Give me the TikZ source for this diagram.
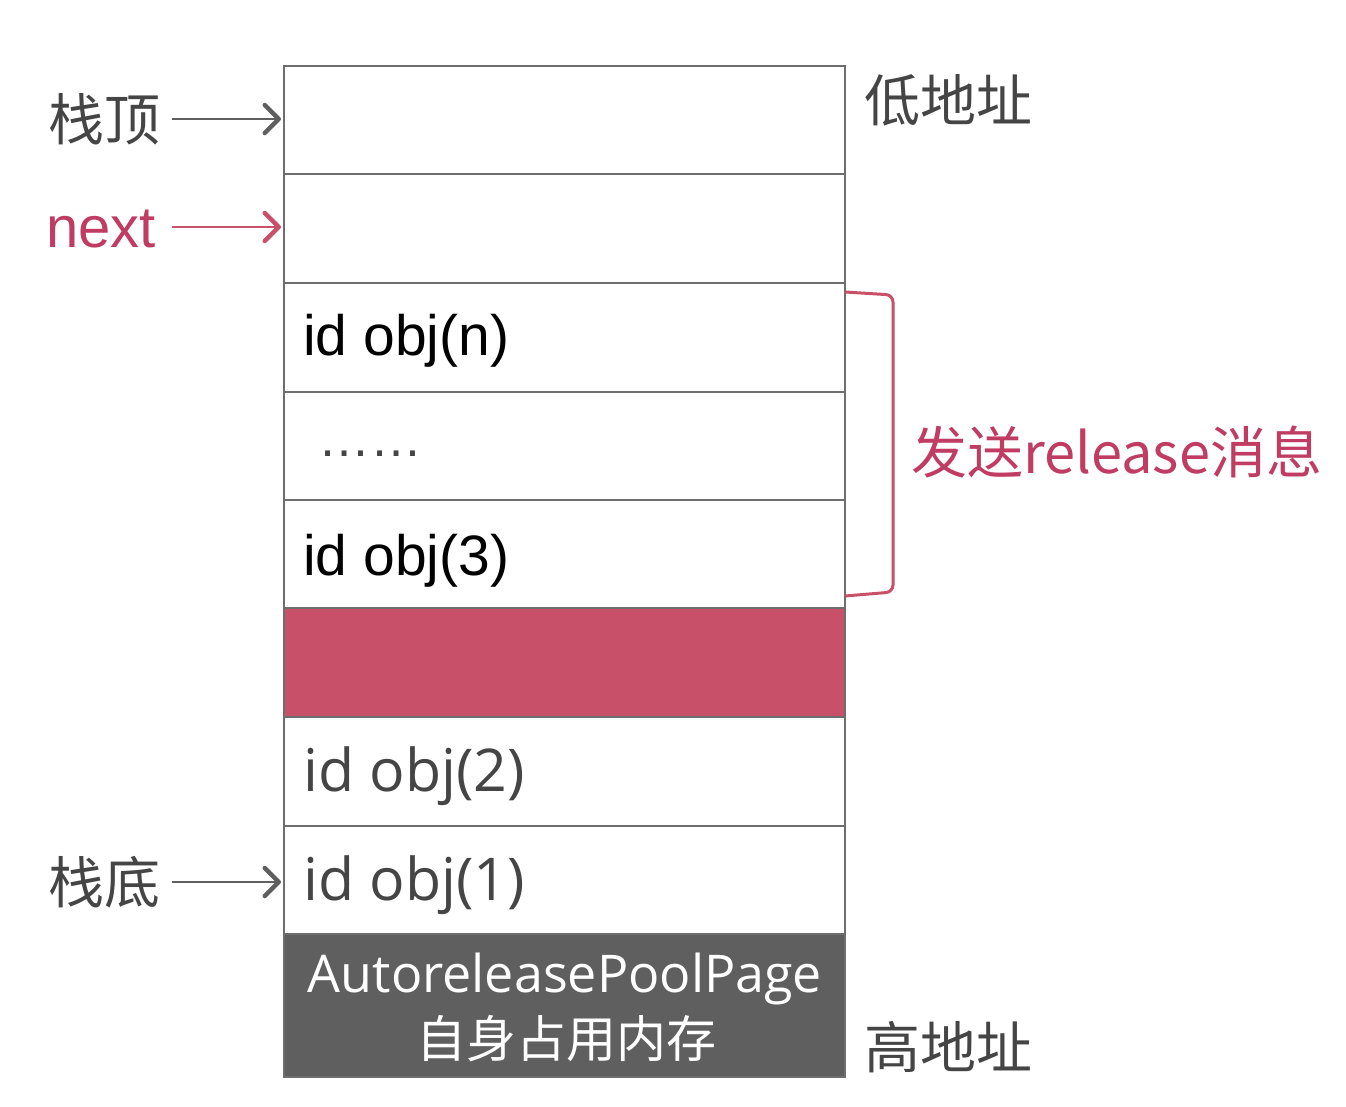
\documentclass[tikz,border=0pt]{standalone}
\usepackage{fontspec}
\setmainfont{Liberation Sans}
\newfontfamily\cjk{Noto Sans CJK SC}
\newfontfamily\seg{Open Sans}
\usetikzlibrary{arrows.meta}
\definecolor{gridc}{HTML}{6E6E6E}
\definecolor{rosec}{HTML}{C85068}
\definecolor{rosetxt}{HTML}{C03C62}
\definecolor{darkc}{HTML}{5F5F5F}
\definecolor{labc}{HTML}{454545}
\begin{document}
\begin{tikzpicture}[x=1pt,y=-1pt,
  cell/.style={draw=gridc,line width=1.8pt,minimum width=561pt,inner sep=0pt,outer sep=0pt,fill=white},
  celltxt/.style={anchor=west,inner sep=0pt,font=\fontsize{57}{60}\selectfont},
  celltxtb/.style={anchor=west,inner sep=0pt,text=labc,font=\seg\fontsize{59}{62}\selectfont},
  sidelab/.style={inner sep=0pt,text=labc,font=\cjk\fontsize{56}{60}\selectfont},
  ptr/.style={line width=1.8pt,-{Straight Barb[length=14pt,width=28pt,line width=4.5pt,round]}},
]
\useasboundingbox (0,0) rectangle (1346,1106);
% cells
\node[cell,minimum height=108pt] (c1) at (564.5,120) {};
\node[cell,minimum height=109pt] (c2) at (564.5,228.5) {};
\node[cell,minimum height=109pt] (c3) at (564.5,337.5) {};
\node[cell,minimum height=108pt] (c4) at (564.5,446) {};
\node[cell,minimum height=108pt] (c5) at (564.5,554) {};
\node[cell,minimum height=109pt,fill=rosec] (c6) at (564.5,662.5) {};
\node[cell,minimum height=109pt] (c7) at (564.5,771.5) {};
\node[cell,minimum height=108pt] (c8) at (564.5,880) {};
\node[cell,minimum height=143pt,fill=darkc] (c9) at (564.5,1005.5) {};
% cell texts
\node[celltxt] (t3) at (303,341) {id obj(n)};
\node[celltxt,text=labc,font=\fontsize{52}{54}\selectfont] (t4) at (318,454) {……};
\node[celltxt] (t5) at (303,561) {id obj(3)};
\node[celltxtb] (t7) at (303,776) {id obj(2)};
\node[celltxtb] (t8) at (303,885) {id obj(1)};
\node[inner sep=0pt,text=white,font=\seg\fontsize{52}{56}\selectfont] (t9a) at (565,979) {AutoreleasePoolPage};
\node[inner sep=0pt,text=white,font=\cjk\fontsize{50}{54}\selectfont] (t9b) at (566,1039) {自身占用内存};
% side labels
\node[sidelab,anchor=east] (top) at (161,119) {栈顶};
\node[inner sep=0pt,anchor=east,text=rosetxt,font=\fontsize{58}{60}\selectfont] (nxt) at (156,229) {next};
\node[sidelab,anchor=east] (bot) at (161,882) {栈底};
\node[sidelab,anchor=west] (low) at (864,100) {低地址};
\node[sidelab,anchor=west] (high) at (864,1047) {高地址};
\node[inner sep=0pt,anchor=west,text=rosetxt,font=\cjk\fontsize{56}{60}\selectfont] (rel) at (911,452) {发送release消息};
% pointers
\draw[ptr,draw=darkc] (top.east)+(11,0) coordinate (a1) -- ([xshift=-3pt]a1 -| c1.west);
\draw[ptr,draw=rosec] (nxt.east)+(16,-2) coordinate (a2) -- ([xshift=-3pt]a2 -| c2.west);
\draw[ptr,draw=darkc] (bot.east)+(11,0) coordinate (a3) -- ([xshift=-3pt]a3 -| c8.west);
% bracket
\coordinate (b1) at ([yshift=-9pt]c3.north east);
\coordinate (b2) at ([yshift=12pt]c5.south east);
\draw[rosec,line width=3pt,rounded corners=7pt] (b1) -- ++(48,3) -- (893,592) -- (b2);
\end{tikzpicture}
\end{document}
